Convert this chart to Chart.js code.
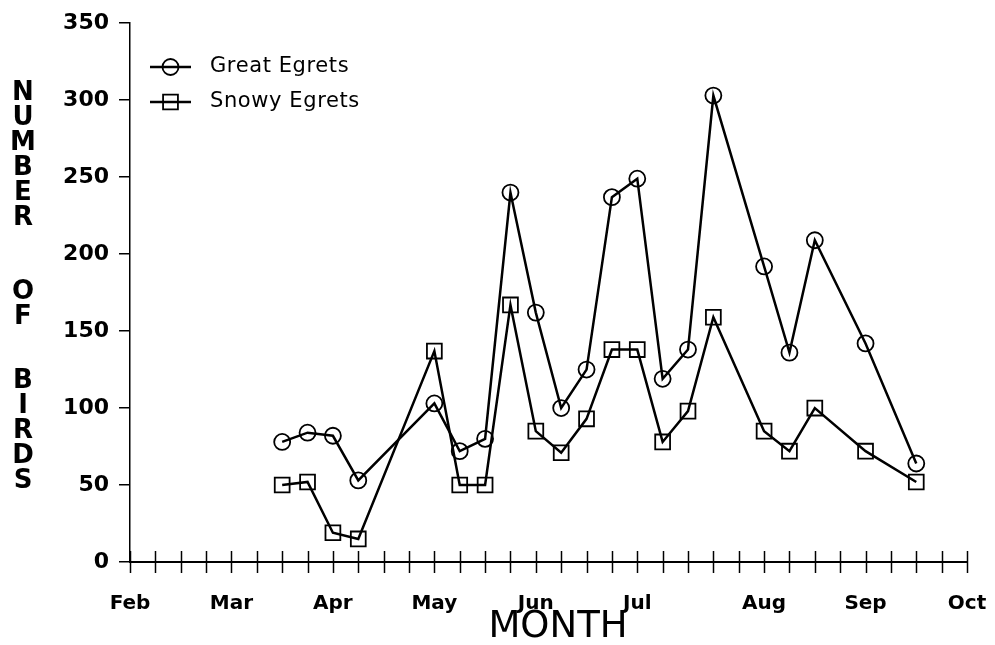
<!DOCTYPE html>
<html>
<head>
<meta charset="utf-8">
<script src="https://cdn.jsdelivr.net/npm/chart.js@4.4.1/dist/chart.umd.min.js"></script>
<style>
  html, body { margin: 0; padding: 0; background: #fff; }
</style>
</head>
<body>
<canvas id="birds" width="995" height="645"></canvas>
<script>
// survey weeks, counted from the first week of February
const SURVEY_WEEKS = [6, 7, 8, 9, 12, 13, 14, 15, 16, 17, 18, 19, 20, 21, 22, 23, 25, 26, 27, 29, 31];
const GREAT_EGRETS = [78, 84, 82, 53, 103, 72, 80, 240, 162, 100, 125, 237, 249, 119, 138, 303, 192, 136, 209, 142, 64];
const SNOWY_EGRETS = [50, 52, 19, 15, 137, 50, 50, 167, 85, 71, 93, 138, 138, 78, 98, 159, 85, 72, 100, 72, 52];

const MONTHS = ['Feb', 'Mar', 'Apr', 'May', 'Jun', 'Jul', 'Aug', 'Sep', 'Oct'];
const MONTH_WEEKS = [0, 4, 8, 12, 16, 20, 25, 29, 33];
const Y_TICKS = [0, 50, 100, 150, 200, 250, 300, 350];

const INK = '#000';
const BOLD = { family: 'DejaVu Sans', weight: 'bold' };

const toPoints = vals => SURVEY_WEEKS.map((w, i) => ({ x: w, y: vals[i] }));

// weekly marks that cross the x axis line
const weekMarks = {
  id: 'weekMarks',
  afterDraw(chart) {
    const { ctx, scales: { x, y } } = chart;
    const y0 = y.getPixelForValue(0);
    ctx.save();
    ctx.strokeStyle = INK;
    ctx.lineWidth = 1.5;
    for (let w = x.min; w <= x.max; w++) {
      const px = Math.round(x.getPixelForValue(w)) + 0.5;
      ctx.beginPath();
      ctx.moveTo(px, y0 - 11);
      ctx.lineTo(px, y0 + 11);
      ctx.stroke();
    }
    ctx.restore();
  }
};

// axis captions: upright stacked words on the left, MONTH under the x axis
const axisCaptions = {
  id: 'axisCaptions',
  afterDraw(chart) {
    const words = [['NUMBER', 93], ['OF', 292], ['BIRDS', 381]];
    const ctx = chart.ctx;
    ctx.save();
    ctx.fillStyle = INK;
    ctx.font = 'bold 26px "DejaVu Sans"';
    ctx.textAlign = 'center';
    ctx.textBaseline = 'middle';
    words.forEach(([word, top]) => {
      [...word].forEach((ch, i) => ctx.fillText(ch, 23, top + i * 25));
    });
    ctx.font = '37px "DejaVu Sans"';
    ctx.fillText('MONTH', 558, 627);
    ctx.restore();
  }
};

// legend in the upper left corner: line sample with marker, then name
const cornerLegend = {
  id: 'cornerLegend',
  afterDraw(chart) {
    const ctx = chart.ctx;
    ctx.save();
    chart.data.datasets.forEach((ds, i) => {
      const cy = 67 + i * 35;
      ctx.strokeStyle = INK;
      ctx.lineWidth = 2.5;
      ctx.beginPath();
      ctx.moveTo(150, cy);
      ctx.lineTo(191, cy);
      ctx.stroke();
      ctx.lineWidth = ds.pointBorderWidth;
      ctx.fillStyle = 'rgba(0,0,0,0)';
      Chart.helpers.drawPoint(ctx, {
        pointStyle: ds.pointStyle,
        radius: ds.pointRadius,
        borderWidth: ds.pointBorderWidth,
        rotation: 0
      }, 170.5, cy);
      ctx.fillStyle = INK;
      ctx.font = '21px "DejaVu Sans"';
      ctx.letterSpacing = '0.6px';
      ctx.textAlign = 'left';
      ctx.textBaseline = 'middle';
      ctx.fillText(ds.label, 210, cy);
      ctx.letterSpacing = '0px';
    });
    ctx.restore();
  }
};

const lineStyle = {
  borderColor: INK,
  borderWidth: 2.5,
  pointBorderColor: INK,
  pointBackgroundColor: 'rgba(0,0,0,0)',
  pointBorderWidth: 1.8,
  tension: 0
};

new Chart(document.getElementById('birds'), {
  type: 'line',
  data: {
    datasets: [
      { label: 'Great Egrets', data: toPoints(GREAT_EGRETS), pointStyle: 'circle', pointRadius: 8, ...lineStyle },
      { label: 'Snowy Egrets', data: toPoints(SNOWY_EGRETS), pointStyle: 'rect', pointRadius: 10.5, ...lineStyle }
    ]
  },
  options: {
    responsive: false,
    animation: false,
    devicePixelRatio: 1,
    layout: { padding: { top: 17, right: 28, left: 0, bottom: 0 } },
    plugins: { legend: { display: false }, tooltip: { enabled: false } },
    scales: {
      x: {
        type: 'linear',
        min: MONTH_WEEKS[0],
        max: MONTH_WEEKS[MONTH_WEEKS.length - 1],
        afterBuildTicks: s => { s.ticks = MONTH_WEEKS.map(v => ({ value: v })); },
        // the tick padding would otherwise widen the side margins
        afterFit: s => { s.height = 83; s.paddingLeft = 20; s.paddingRight = 20; },
        grid: { display: false, drawTicks: false },
        border: { display: true, color: INK, width: 2 },
        ticks: {
          autoSkip: false,
          maxRotation: 0,
          padding: 30,
          color: INK,
          font: { ...BOLD, size: 20 },
          callback: v => MONTHS[MONTH_WEEKS.indexOf(v)]
        }
      },
      y: {
        min: 0,
        max: 350,
        afterBuildTicks: s => { s.ticks = Y_TICKS.map(v => ({ value: v })); },
        afterFit: s => { s.width = 130; },
        grid: { drawOnChartArea: false, tickLength: 11, color: INK, lineWidth: 1.5 },
        border: { display: true, color: INK, width: 1.5 },
        ticks: { padding: 10, color: INK, font: { ...BOLD, size: 22 } }
      }
    }
  },
  plugins: [weekMarks, axisCaptions, cornerLegend]
});
</script>
</body>
</html>
